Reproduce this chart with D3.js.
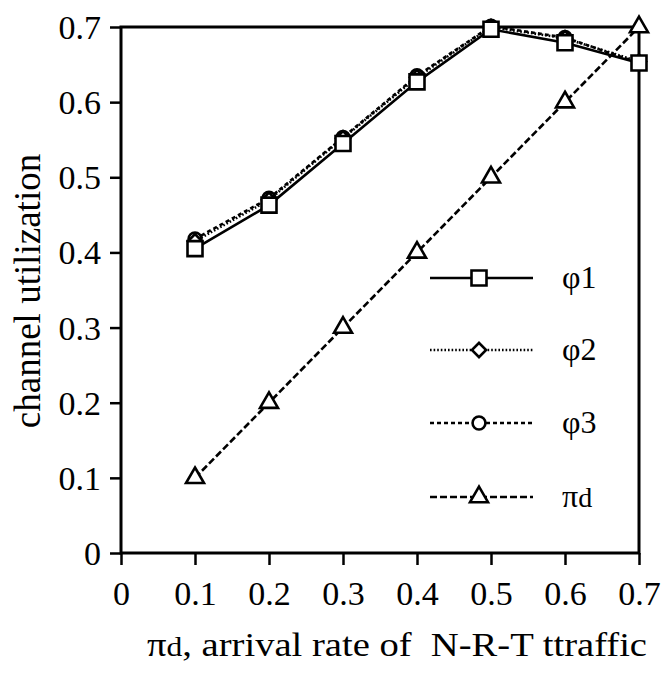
<!DOCTYPE html>
<html>
<head>
<meta charset="utf-8">
<script src="https://cdn.jsdelivr.net/npm/d3@7/dist/d3.min.js"></script>
<style>
  html, body { margin: 0; padding: 0; background: #fff; }
  svg { display: block; }
  text { font-family: "Liberation Serif", "Times New Roman", serif; fill: #000; white-space: pre; }
</style>
</head>
<body>
<svg id="chart" width="671" height="675"></svg>
<script>
// Arrival rate of non-real-time traffic (x axis)
const arrivalRates = [0.1, 0.2, 0.3, 0.4, 0.5, 0.6, 0.7];

// Channel utilization per scheme
const phi1 = [0.405, 0.463, 0.545, 0.627, 0.697, 0.679, 0.652];
const phi2 = [0.415, 0.470, 0.552, 0.633, 0.700, 0.685, 0.654];
const phi3 = [0.418, 0.472, 0.553, 0.635, 0.701, 0.686, 0.652];
const piD  = [0.1, 0.2, 0.3, 0.4, 0.5, 0.6, 0.7];

const xTicks = [0, 0.1, 0.2, 0.3, 0.4, 0.5, 0.6, 0.7];
const yTicks = [0, 0.1, 0.2, 0.3, 0.4, 0.5, 0.6, 0.7];

const seriesNames = ["φ1", "φ2", "φ3", "πd"];

const svg = d3.select("#chart");

const plot = { left: 121, right: 639, top: 27, bottom: 553 };

const x = d3.scaleLinear().domain([0, 0.7]).range([plot.left, plot.right]);
const y = d3.scaleLinear().domain([0, 0.7]).range([plot.bottom, plot.top]);

const fmt = d => (d === 0 ? "0" : d3.format(".1f")(d));

// Axes
const yAxis = svg.append("g")
  .attr("transform", `translate(${plot.left},0)`)
  .call(d3.axisLeft(y).tickValues(yTicks).tickFormat(fmt).tickSize(11).tickPadding(9));
const xAxis = svg.append("g")
  .attr("transform", `translate(0,${plot.bottom})`)
  .call(d3.axisBottom(x).tickValues(xTicks).tickFormat(fmt).tickSize(12).tickPadding(16));

[yAxis, xAxis].forEach(g => {
  g.select(".domain").remove();
  g.selectAll(".tick line").attr("stroke", "#000").attr("stroke-width", 2.5);
  g.selectAll(".tick text")
    .style("font-family", '"Liberation Serif", "Times New Roman", serif')
    .style("font-size", "34px")
    .attr("fill", "#000");
});
yAxis.selectAll(".tick text").attr("dy", "0.34em");
xAxis.selectAll(".tick text").attr("dy", "0.72em");

// Frame
svg.append("rect")
  .attr("x", plot.left).attr("y", plot.top)
  .attr("width", plot.right - plot.left).attr("height", plot.bottom - plot.top)
  .attr("fill", "none").attr("stroke", "#000").attr("stroke-width", 3);

// Series styles
const series = [
  { name: seriesNames[0], values: phi1, dash: null,    symbol: "square"   },
  { name: seriesNames[1], values: phi2, dash: "1.6,2", symbol: "diamond"  },
  { name: seriesNames[2], values: phi3, dash: "4,3",   symbol: "circle"   },
  { name: seriesNames[3], values: piD,  dash: "7,3",   symbol: "triangle" }
];

const symbolPath = {
  square:   d3.symbol().type(d3.symbolSquare).size(15 * 15)(),
  diamond:  d3.symbol().type(d3.symbolSquare).size(10 * 10)(),
  circle:   d3.symbol().type(d3.symbolCircle).size(130)(),
  triangle: d3.symbol().type(d3.symbolTriangle).size(140)()
};
const symbolRotate = { square: 0, diamond: 45, circle: 0, triangle: 0 };

const line = d3.line().x(d => x(d[0])).y(d => y(d[1]));

// Draw back-to-front so the squares sit on top
const drawOrder = [3, 2, 1, 0];
drawOrder.forEach(i => {
  const s = series[i];
  const pts = arrivalRates.map((r, k) => [r, s.values[k]]);
  svg.append("path")
    .datum(pts)
    .attr("d", line)
    .attr("fill", "none")
    .attr("stroke", "#000")
    .attr("stroke-width", 2.6)
    .attr("stroke-dasharray", s.dash);
  svg.append("g").selectAll("path")
    .data(pts)
    .join("path")
    .attr("d", symbolPath[s.symbol])
    .attr("transform", d => `translate(${x(d[0])},${y(d[1])}) rotate(${symbolRotate[s.symbol]})`)
    .attr("fill", "#fff")
    .attr("stroke", "#000")
    .attr("stroke-width", 2.6);
});

// Legend
const legend = svg.append("g");
const legendRows = [278, 350, 423, 497];
series.forEach((s, i) => {
  const ly = legendRows[i];
  legend.append("line")
    .attr("x1", 430).attr("x2", 533).attr("y1", ly).attr("y2", ly)
    .attr("stroke", "#000").attr("stroke-width", 2.4)
    .attr("stroke-dasharray", s.dash);
  legend.append("path")
    .attr("d", symbolPath[s.symbol])
    .attr("transform", `translate(479,${ly}) rotate(${symbolRotate[s.symbol]})`)
    .attr("fill", "#fff").attr("stroke", "#000").attr("stroke-width", 2.6);
  const t = legend.append("text")
    .attr("x", 562).attr("y", ly + 10)
    .style("font-size", "32px");
  if (s.name === "πd") {
    t.append("tspan").text("π");
    t.append("tspan").style("font-size", "28px").text("d");
  } else {
    t.text(s.name);
  }
});

// Axis titles
const xTitle = svg.append("text")
  .attr("x", 147).attr("y", 656)
  .attr("textLength", 500)
  .attr("lengthAdjust", "spacingAndGlyphs")
  .style("font-size", "33px");
xTitle.append("tspan").text("π");
xTitle.append("tspan").style("font-size", "27px").text("d");
xTitle.append("tspan").text(", arrival rate of  N-R-T ttraffic");

svg.append("text")
  .attr("transform", "translate(40,291) rotate(-90)")
  .attr("text-anchor", "middle")
  .style("font-size", "37px")
  .text("channel utilization");
</script>
</body>
</html>
